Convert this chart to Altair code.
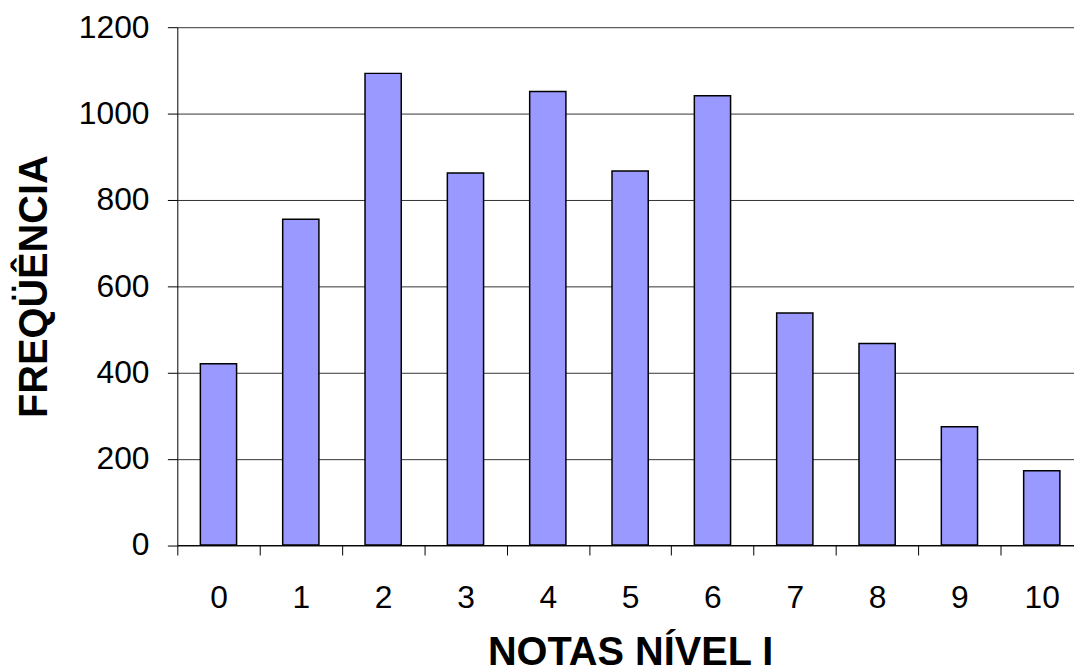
import altair as alt
import pandas as pd

notas = ["0", "1", "2", "3", "4", "5", "6", "7", "8", "9", "10"]
frequencia = [420, 755, 1093, 862, 1051, 867, 1041, 538, 467, 274, 172]
y_ticks = [0, 200, 400, 600, 800, 1000, 1200]

df = pd.DataFrame({"nota": notas, "freq": frequencia})

FONT = "Liberation Sans"

chart = (
    alt.Chart(df)
    .mark_bar(
        width=alt.RelativeBandSize(0.44),
        fill="#9999FF",
        stroke="black",
        strokeWidth=1.5,
    )
    .encode(
        x=alt.X(
            "nota:N",
            sort=notas,
            scale=alt.Scale(range=[0, 912], paddingInner=0, paddingOuter=0),
            axis=alt.Axis(
                title="NOTAS NÍVEL I",
                labelAngle=0,
                tickBand="extent",
                tickSize=10,
                tickColor="black",
                domainColor="black",
                labelPadding=28,
                labelFont=FONT,
                labelFontSize=32,
                labelColor="black",
                grid=False,
                titleFont=FONT,
                titleFontSize=40,
                titleFontWeight="bold",
                titleColor="black",
                titleX=456,
                titleY=120,
                titleAlign="center",
                titleBaseline="alphabetic",
            ),
        ),
        y=alt.Y(
            "freq:Q",
            scale=alt.Scale(domain=[0, 1200], nice=False),
            axis=alt.Axis(
                values=y_ticks,
                format="d",
                title="FREQÜÊNCIA",
                tickSize=10,
                tickColor="black",
                domainColor="black",
                labelPadding=18.5,
                labelFont=FONT,
                labelFontSize=32,
                labelColor="black",
                grid=True,
                gridColor="#333333",
                gridWidth=1,
                titleFont=FONT,
                titleFontSize=40,
                titleFontWeight="bold",
                titleColor="black",
                titleX=-131.5,
                titleBaseline="alphabetic",
            ),
        ),
    )
    .properties(
        width=903,
        height=521.5,
        autosize=alt.AutoSizeParams(type="none"),
        padding={"left": 170.5, "top": 17, "right": 0, "bottom": 125.5},
        background="white",
    )
    .configure_view(stroke=None)
)

chart.save("out.html", embed_options={"renderer": "svg", "actions": False})
